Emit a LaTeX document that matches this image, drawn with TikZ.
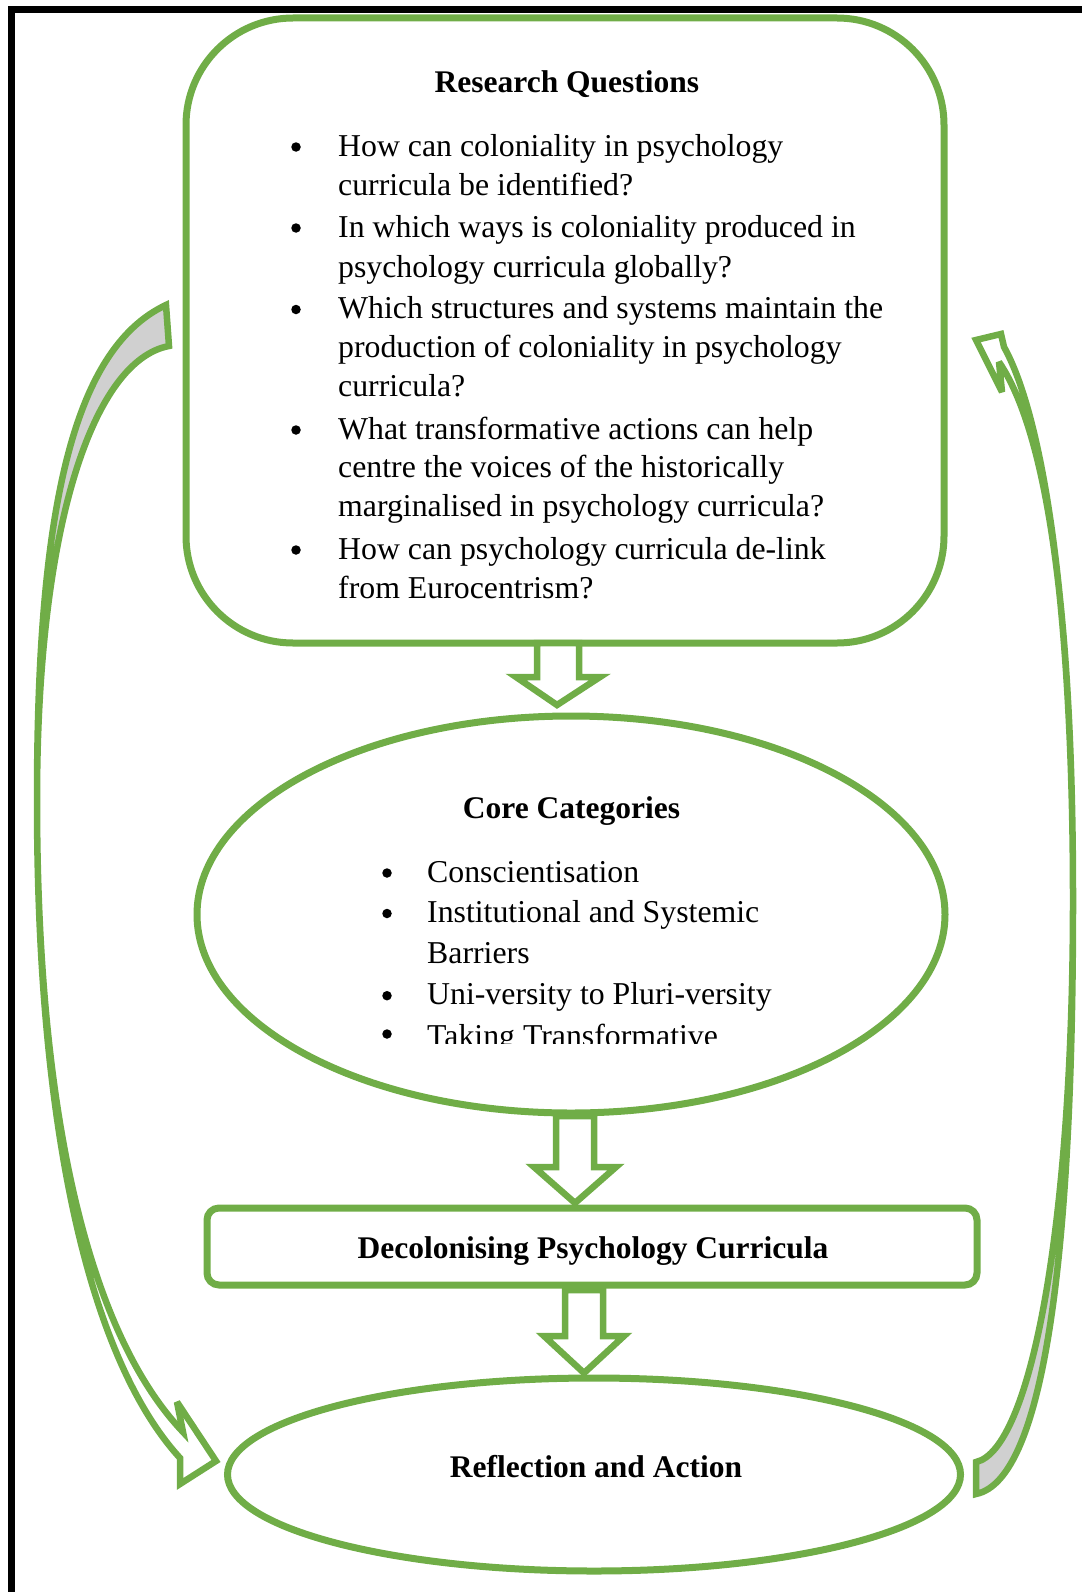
\documentclass[tikz,border=0pt]{standalone}
\usepackage{fontspec}
\setmainfont{Liberation Serif}
\usetikzlibrary{calc,shapes.geometric}
\definecolor{leaf}{HTML}{70AD47}
\definecolor{tailgrey}{HTML}{D0D0D0}

% hollow block arrow pointing down: start, tip, shaft half width, wing half width, head height
\newcommand\downblock[5]{%
  \draw[blockarrow] let \p1=(#1), \p2=(#2) in
    (\x1-#3pt,\y1) -- (\x1-#3pt,\y2+#5pt) -- (\x1-#4pt,\y2+#5pt) -- (\x2,\y2)
    -- (\x1+#4pt,\y2+#5pt) -- (\x1+#3pt,\y2+#5pt) -- (\x1+#3pt,\y1) -- cycle;}

\begin{document}
\begin{tikzpicture}[x=1pt,y=-1pt,
  outline/.style={draw=leaf,line width=7pt,inner sep=0pt},
  txt/.style={inner sep=0pt,font=\fontsize{31.8}{38}\selectfont},
  headline/.style={inner sep=0pt,anchor=base,font=\fontsize{31.5}{38}\selectfont\bfseries},
  dot/.style={circle,fill=black,inner sep=0pt,minimum size=9.5pt},
  item/.style={txt,anchor=base west},
  blockarrow/.style={draw=leaf,line width=6.5pt,fill=white,line join=miter},
  bendarrow/.style={draw=leaf,line width=6.5pt,line join=miter,miter limit=4}]

\useasboundingbox (0,0) rectangle (1081,1592);

% black frame (left and top sides)
\draw[line width=7pt,line join=miter] (11,1620) -- (11,10) -- (1100,10);

% main shapes
\node[outline,rounded corners=107pt,minimum width=758pt,minimum height=625pt] (rq) at (565,330.5) {};
\node[outline,ellipse,minimum width=748pt,minimum height=397pt] (cc) at (571,914.5) {};
\node[outline,rounded corners=12pt,minimum width=770pt,minimum height=77pt] (dpc) at (592,1246.5) {};
\node[outline,ellipse,minimum width=733pt,minimum height=193pt] (ra) at (594,1474.5) {};

% research questions
\node[headline] (rqtitle) at (567,93) {Research Questions};
\begin{scope}
  \clip (186,100) rectangle (944,598);
  \node[dot] (rb1) at (296,147) {};
  \node[dot] (rb2) at (296,228) {};
  \node[dot] (rb3) at (296,309.5) {};
  \node[dot] (rb4) at (296,430) {};
  \node[dot] (rb5) at (296,550) {};
  \node[item] (r1)  at (338,156)   {How can coloniality in psychology};
  \node[item] (r2)  at (338,195)   {curricula be identified?};
  \node[item] (r3)  at (338,237)   {In which ways is coloniality produced in};
  \node[item] (r4)  at (338,277)   {psychology curricula globally?};
  \node[item] (r5)  at (338,318.5) {Which structures and systems maintain the};
  \node[item] (r6)  at (338,357)   {production of coloniality in psychology};
  \node[item] (r7)  at (338,396.5) {curricula?};
  \node[item] (r8)  at (338,439)   {What transformative actions can help};
  \node[item] (r9)  at (338,477)   {centre the voices of the historically};
  \node[item] (r10) at (338,516.5) {marginalised in psychology curricula?};
  \node[item] (r11) at (338,559)   {How can psychology curricula de-link};
  \node[item] (r12) at (338,598)   {from Eurocentrism?};
\end{scope}

% core categories
\node[headline] (cctitle) at (571.5,818) {Core Categories};
\begin{scope}
  \clip (200,830) rectangle (940,1043);
  \node[dot] (cb1) at (387,873) {};
  \node[dot] (cb2) at (387,913.5) {};
  \node[dot] (cb3) at (387,995.7) {};
  \node[dot] (cb4) at (387,1034) {};
  \node[item] (c1) at (427,882)    {Conscientisation};
  \node[item] (c2) at (427,922.5)  {Institutional and Systemic};
  \node[item] (c3) at (427,963)    {Barriers};
  \node[item] (c4) at (427,1004.7) {Uni-versity to Pluri-versity};
  \node[item] (c5) at (427,1046)   {Taking Transformative};
\end{scope}

\node[headline] (dpctitle) at (593,1258) {Decolonising Psychology Curricula};
\node[headline] (ratitle) at (596,1477) {Reflection and Action};

% block arrows between the stages
\coordinate (a1s) at (558,643);  \coordinate (a1t) at (557,705);
\coordinate (a2s) at (575,1116); \coordinate (a2t) at (575,1203);
\coordinate (a3s) at (584,1290); \coordinate (a3t) at (584,1373);
\downblock{a1s}{a1t}{21}{42}{28}
\downblock{a2s}{a2t}{19}{41}{36}
\downblock{a3s}{a3t}{19}{40}{37}

% left curved arrow: research questions -> reflection and action
\coordinate (lo) at (166,305);
\coordinate (li) at (169,346);
\coordinate (lm) at (37,800);
\coordinate (lshaftout) at (180,1458);
\coordinate (lwinglow) at (180,1484);
\coordinate (ltip) at (216,1461);
\coordinate (lwingup) at (177,1402);
\coordinate (lshaftin) at (183,1432);
\fill[tailgrey] (lo) .. controls (70,350) and (37,520) .. (lm)
  .. controls (37,520) and (95,360) .. (li) -- cycle;
\draw[bendarrow] (lo) .. controls (70,350) and (37,520) .. (lm)
  .. controls (37,1150) and (95,1365) .. (lshaftout) -- (lwinglow) -- (ltip)
  -- (lwingup) -- (lshaftin) .. controls (100,1345) and (37,1150) .. (lm)
  .. controls (37,520) and (95,360) .. (li) -- cycle;

% right curved arrow: reflection and action -> research questions
\coordinate (ro) at (976,1494);
\coordinate (ri) at (976,1462);
\coordinate (rm) at (1073,900);
\coordinate (rshaftout) at (1004,347);
\coordinate (rwingup) at (1001,334);
\coordinate (rtip) at (976,340);
\coordinate (rwinglow) at (1002,392);
\coordinate (rshaftin) at (999,362);
\fill[tailgrey] (ro) .. controls (1045,1480) and (1073,1250) .. (rm)
  .. controls (1073,1230) and (1030,1450) .. (ri) -- cycle;
\draw[bendarrow] (ro) .. controls (1045,1480) and (1073,1250) .. (rm)
  .. controls (1073,600) and (1042,415) .. (rshaftout) -- (rwingup) -- (rtip)
  -- (rwinglow) -- (rshaftin) .. controls (1045,430) and (1073,600) .. (rm)
  .. controls (1073,1230) and (1030,1450) .. (ri) -- cycle;

\end{tikzpicture}
\end{document}
